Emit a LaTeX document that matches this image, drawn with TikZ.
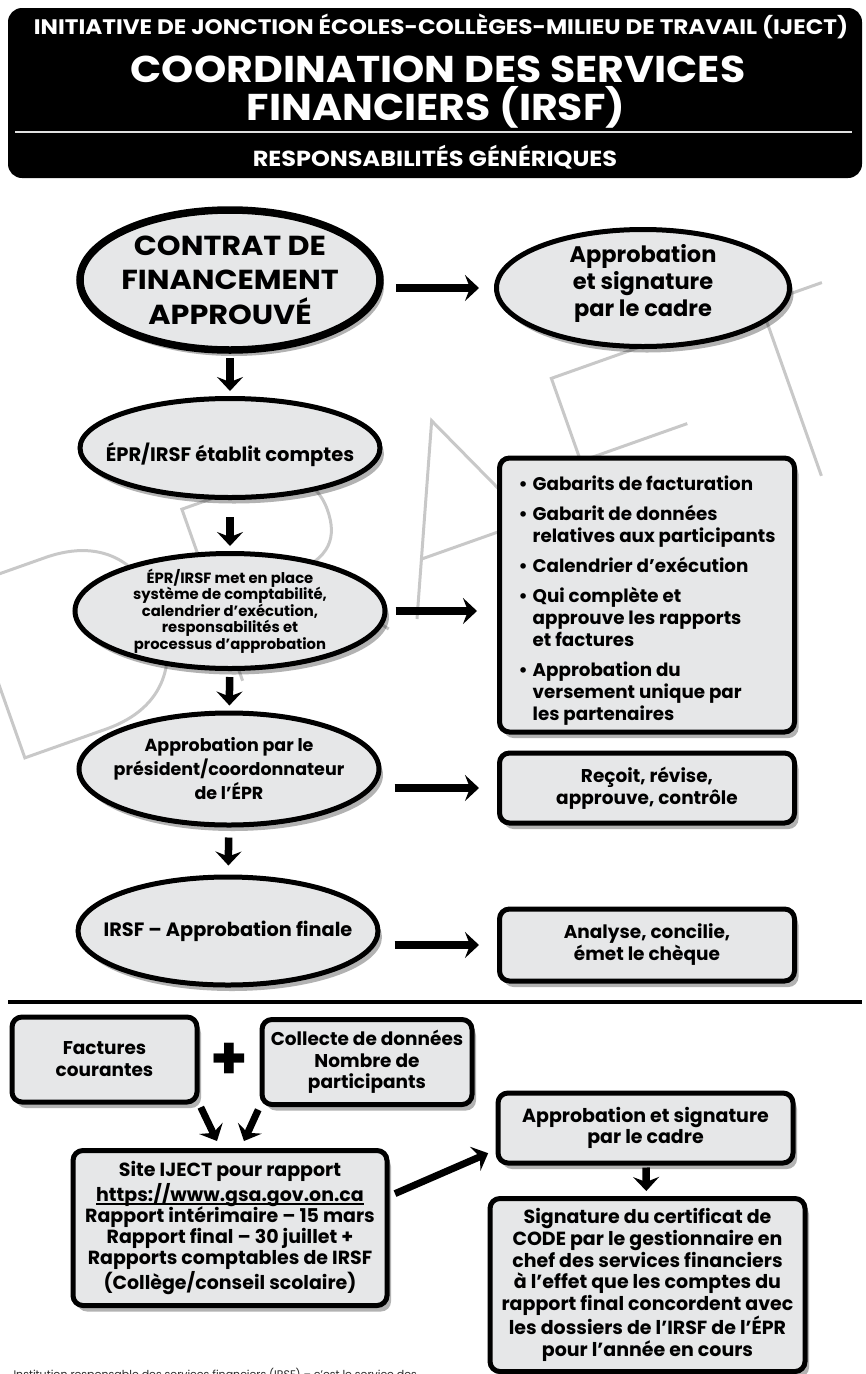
\documentclass[tikz,border=0pt]{standalone}
\usepackage{fontspec}
\setmainfont{Poppins}
\newfontfamily\widecaps{Poppins}[FakeStretch=1.1]
\usetikzlibrary{shapes.geometric,shadows,arrows.meta}
\definecolor{boxgray}{HTML}{E6E7E8}
\definecolor{draftgray}{HTML}{C8C8C8}
\newcommand{\fsz}[2]{\fontsize{#1}{#2}\selectfont\bfseries}
\newcommand{\wsz}[2]{\widecaps\fontsize{#1}{#2}\selectfont\bfseries}
\newcommand{\ulinetext}[1]{\setbox0\hbox{#1}\rlap{\rule[-3.5pt]{\wd0}{1.5pt}}\box0}
\tikzset{
  dropshade/.style={drop shadow={shadow xshift=4pt,shadow yshift=-6pt,opacity=.3,fill=black}},
  bubble/.style={ellipse,draw,line width=5pt,fill=boxgray,dropshade,inner sep=-40pt,align=center},
  panel/.style={rectangle,draw,line width=5pt,rounded corners=10pt,fill=boxgray,dropshade,inner sep=0pt,align=center},
  flow/.style={line width=7.5pt,-{Stealth[length=14pt,width=26pt,inset=5pt]}},
  draftline/.style={draftgray,line width=3pt,line join=miter},
}
\begin{document}
\begin{tikzpicture}[x=1pt,y=-1pt]
  \useasboundingbox (0,0) rectangle (866,1374);
  % watermark
  \begin{scope}[shift={(417,619)},rotate=19.5,yscale=-1,draftline]
    \draw (-416,0) -- (-416,182) -- (-330,182) .. controls (-265,182) and (-240,140) .. (-240,91)
          .. controls (-240,42) and (-265,0) .. (-330,0) -- cycle;
    \draw (-185,0) -- (-185,182) -- (-105,182) .. controls (-55,182) and (-48,150) .. (-48,133)
          .. controls (-48,105) and (-60,85) .. (-105,85) -- (-185,85) (-95,85) -- (-30,0);
    \draw (0,0) -- (80,182) -- (165,0) (24,55) -- (140,55);
    \draw (207,0) -- (207,182) -- (335,182) (207,94) -- (320,94);
    \draw (364,182) -- (494,182) (429,182) -- (429,0);
  \end{scope}
  % header
  \fill[rounded corners=14pt] (8,8) rectangle (862,178);
  \draw[line width=2.5pt,black!12] (15,132) -- (852,132);
  \node[white,anchor=base,font=\wsz{21}{24}] (t1) at (441,34) {INITIATIVE DE JONCTION ÉCOLES-COLLÈGES-MILIEU DE TRAVAIL (IJECT)};
  \node[white,anchor=base,font=\wsz{37.3}{40}] (t2) at (438,82) {COORDINATION DES SERVICES};
  \node[white,anchor=base,font=\wsz{37.3}{40}] (t3) at (436,120) {FINANCIERS (IRSF)};
  \node[white,anchor=base,font=\wsz{21.8}{24}] (t4) at (435,166) {RESPONSABILITÉS GÉNÉRIQUES};

  % left column
  \node[bubble,line width=7.5pt,minimum width=300pt,minimum height=140pt,font=\wsz{27.5}{34.5}] (e1) at (230,280) {CONTRAT DE\\FINANCEMENT\\APPROUVÉ};
  \node[bubble,minimum width=300pt,minimum height=99pt,font=\fsz{19.5}{24},text height=32pt,text depth=5pt] (e3) at (230,448) {ÉPR/IRSF établit comptes};
  \node[bubble,minimum width=310pt,minimum height=115pt,font=\fsz{14.8}{16.5}] (e4) at (230,611) {ÉPR/IRSF met en place\\système de comptabilité,\\calendrier d’exécution,\\responsabilités et\\processus d’approbation};
  \node[bubble,minimum width=300pt,minimum height=112pt,font=\fsz{17.5}{24}] (e5) at (229,769) {Approbation par le\\président/coordonnateur\\de l’ÉPR};
  \node[bubble,minimum width=300pt,minimum height=108pt,font=\fsz{19.3}{24}] (e6) at (228,931) {IRSF – Approbation finale};

  % right column
  \node[bubble,minimum width=293pt,minimum height=117pt,font=\fsz{22.5}{27}] (e2) at (643,288) {Approbation\\et signature\\par le cadre\\[-11pt]\mbox{}};
  \node[panel,minimum width=295pt,minimum height=274pt,font=\fsz{18.3}{22}] (b1) at (647,595) {%
    \begin{tabular}{@{}l@{\hspace{5pt}}l@{}}
      \noalign{\vskip12pt}
      • & Gabarits de facturation\\[8pt]
      • & Gabarit de données\\
        & relatives aux participants\\[8pt]
      • & Calendrier d’exécution\\[8pt]
      • & Qui complète et\\
        & approuve les rapports\\
        & et factures\\[8pt]
      • & Approbation du\\
        & versement unique par\\
        & les partenaires
    \end{tabular}};
  \node[panel,minimum width=295pt,minimum height=70pt,font=\fsz{18.5}{22}] (b2) at (647,788) {Reçoit, révise,\\approuve, contrôle};
  \node[panel,minimum width=295pt,minimum height=72pt,font=\fsz{18.5}{22}] (b3) at (647,945) {Analyse, concilie,\\émet le chèque};

  \draw[flow,shorten <=4pt,shorten >=5pt] (e1) -- (e3);
  \draw[flow,shorten <=17pt,shorten >=5pt] (e3) -- (e4);
  \draw[flow,shorten <=6pt,shorten >=5pt] (e4) -- (e5);
  \draw[flow,shorten <=10pt,shorten >=9pt] (e5) -- (e6);
  \draw[flow,shorten <=12pt,shorten >=15pt] (e1.east |- e2.west) -- (e2.west);
  \draw[flow,shorten <=8pt,shorten >=20pt] (e4.east) -- (e4.east -| b1.west);
  \draw[flow,shorten <=13pt,shorten >=18pt] (e5.east |- b2.west) -- (b2.west);
  \draw[flow,shorten <=14pt,shorten >=18pt] (e6.east |- b3.west) -- (b3.west);

  % separator
  \draw[line width=4pt] (8,1002) -- (862,1002);

  % bottom part
  \node[panel,minimum width=185pt,minimum height=85pt,font=\fsz{18.5}{22}] (f1) at (104.5,1059.5) {Factures\\courantes};
  \node[panel,minimum width=210pt,minimum height=85pt,font=\fsz{18.5}{21.5}] (f2) at (367,1062) {Collecte de données\\Nombre de\\participants};
  \node[font=\fsz{60}{60}] (plus) at (229,1061) {+};
  \node[panel,minimum width=314pt,minimum height=155pt,font=\fsz{19}{21.3}] (s1) at (230,1228) {Site IJECT pour rapport\\\ulinetext{https://www.gsa.gov.on.ca}\\Rapport intérimaire – 15 mars\\Rapport final – 30 juillet +\\Rapports comptables de IRSF\\(Collège/conseil scolaire)};
  \node[panel,minimum width=295pt,minimum height=70pt,font=\fsz{19}{21.5}] (a1) at (645.5,1128) {Approbation et signature\\par le cadre};
  \node[panel,minimum width=315pt,minimum height=173pt,font=\fsz{19}{21.6}] (c1) at (647.5,1285) {Signature du certificat de\\CODE par le gestionnaire en\\chef des services financiers\\à l’effet que les comptes du\\rapport final concordent avec\\les dossiers de l’IRSF de l’ÉPR\\pour l’année en cours};

  \coordinate (in1) at (217,1141);
  \coordinate (in2) at (244,1141);
  \draw[flow,line width=7pt,shorten <=3pt] (f1.south east) -- (in1);
  \draw[flow,line width=7pt,shorten <=3pt] (f2.south west) -- (in2);
  \draw[flow,line width=7pt,shorten <=6pt,shorten >=8pt] ([yshift=32pt]s1.east) -- ([yshift=-22pt]a1.west);
  \draw[flow,shorten <=2pt,shorten >=5pt] (a1) -- (c1);

  \node[anchor=base west,font=\fontsize{11}{13}\selectfont,black!85] (note) at (10,1378) {Institution responsable des services financiers (IRSF) – c’est le service des};
\end{tikzpicture}
\end{document}
